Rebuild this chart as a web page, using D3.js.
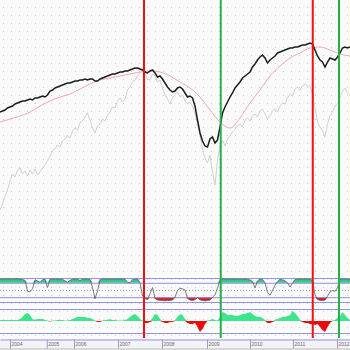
<!DOCTYPE html>
<html>
<head>
<meta charset="utf-8">
<script src="https://cdn.jsdelivr.net/npm/d3@7"></script>
<style>
  html, body { margin: 0; padding: 0; background: #fafafa; }
  svg { display: block; }
  .axis text { font-family: "Liberation Sans", Arial, sans-serif; font-size: 5px; fill: #666; }
</style>
</head>
<body>
<svg id="chart" width="350" height="350"></svg>
<script>
// price index (one value per bar)
const priceValues = [188,189,190,192,193,194,196,197,198,199,
    199,200,201,200,202,202,203,204,203,205,
    209,210,212,213,214,215,216,217,217,218,
    219,219,220,220,221,220,221,221,219,219,
    221,222,223,224,225,226,226,227,228,228,
    229,229,230,231,232,232,231,230,228,227,
    229,230,227,223,224,221,217,213,210,208,
    209,212,213,211,207,203,204,202,194,180,
    167,159,154,153,161,163,157,160,173,187,
    193,198,203,207,212,215,218,222,224,226,
    228,233,236,240,243,245,242,237,240,242,
    244,247,248,249,250,251,252,252,253,253,
    254,255,255,256,257,256,250,244,240,238,
    233,238,242,241,240,243,247,252,253,252,
    253];

// moving average, one value every 4 bars
const maValues = [178,181,184,188,194,199,203,206,211,216,220,222,224,226,228,229,228,224,
    218,212,203,190,178,172,182,197,210,224,234,242,247,252,253,250,246,244];
const maStride = 4;

// comparison series (light gray)
const compareValues = [90,96,104,110,119,126,123,130,132,126,
    129,124,130,126,131,125,128,132,135,139,
    144,149,151,155,153,159,161,164,162,169,
    172,170,177,179,183,187,180,172,167,174,
    176,181,179,185,188,193,192,199,202,198,
    201,210,213,218,220,224,227,229,227,221,
    220,226,224,218,220,212,205,201,196,202,
    206,208,203,205,199,196,198,194,186,176,
    165,150,142,137,145,128,115,140,155,160,
    154,161,164,168,171,174,176,173,180,182,
    179,184,186,183,189,191,186,181,184,189,
    191,188,194,197,196,202,206,204,211,213,
    210,214,216,214,214,206,192,178,173,169,
    163,176,184,188,194,196,202,209,212,207,
    205];

// oscillator 0..100
const oscValues = [95,96,95,97,96,95,96,97,95,94,
    90,45,42,55,92,88,82,93,95,60,
    95,96,95,96,94,95,88,82,90,95,
    96,95,90,95,96,95,94,60,15,45,
    92,96,95,96,95,96,95,96,95,96,
    95,82,80,93,95,96,80,25,15,10,
    35,60,15,8,7,6,5,6,7,8,
    20,48,57,55,50,15,8,6,10,18,
    9,6,5,6,8,20,30,58,92,96,
    95,96,95,96,95,96,94,95,96,94,
    92,85,58,88,95,94,80,40,28,48,
    70,85,95,92,88,80,62,78,94,95,
    96,95,96,94,95,90,30,10,7,6,
    8,25,42,48,44,60,94,96,95,95,
    93];
const oscLevels = [100, 80, 20, 0];
const oscUpper = 80, oscLower = 20, oscMid = 50;

// momentum histogram
const histValues = [1,1,1,1,1,1,1,1,2,4,
    7,8,6,2,1,2,2,2,1,0.5,
    -0.5,0.5,0.5,1,1,1,0.5,0.5,1,2,
    3,4,4,4,4,3,3,2,0.5,-1,
    -1,0.5,1,1,2,1,1,0.5,0.5,0.5,
    1,2,4,6,7,5,2,0.5,-2,-2,
    -1,3,7,6,2,-1,-2,-2,-1,-1,
    1,4,7,6,2,-2,-3,-3,-2,-6,
    -11,-8,-3,0.5,1,2,1,0.5,4,9,
    8,6,6,6,5,5,6,7,7,8,
    9,7,5,4,4,3,1,-2,-2,-1,
    1,2,3,4,4,5,6,10,8,5,
    1,-1,-2,-2,-3,-3,-4,-3,-6,-9,
    -11,-6,-2,0.5,1,3,5,9,6,3,
    1];
const histLevels = [12, -12];

// year labels and the bar where each year starts
const yearLabels = ["2004","2005","2006","2007","2008","2009","2010","2011","2012"];
const yearBars = [4, 18.7, 29.6, 47.2, 64.8, 82.8, 100, 117.2, 134.8];

// sell / buy signals
const signalBars = [57.6, 88.3, 125.1, 135.6];
const signalTypes = ["sell", "buy", "sell", "buy"];

const svg = d3.select("#chart");
const W = 350, H = 350;

const x = d3.scaleLinear().domain([0, priceValues.length - 1]).range([0, W]);
const yMain = d3.scaleLinear().domain([0, 300]).range([300, 0]);
const yOsc = d3.scaleLinear().domain([0, 100]).range([302, 278]);
const yHist = d3.scaleLinear().domain([-12, 12]).range([333, 309]);

// dotted background grid
const defs = svg.append("defs");
const pat = defs.append("pattern").attr("id", "dots")
    .attr("width", 8).attr("height", 8).attr("patternUnits", "userSpaceOnUse");
pat.append("rect").attr("x", 3).attr("y", 7).attr("width", 1).attr("height", 1).attr("fill", "#c9c9cf");
svg.append("rect").attr("width", W).attr("height", 339).attr("fill", "#fafafa");
svg.append("rect").attr("width", W).attr("height", 339).attr("fill", "url(#dots)");

// main panel
const lineGen = d3.line().x((d, i) => x(i)).y(d => yMain(d));

svg.append("path").datum(compareValues)
    .attr("d", lineGen)
    .attr("fill", "none").attr("stroke", "#c6c6c6").attr("stroke-width", 0.8);

svg.append("path").datum(maValues)
    .attr("d", d3.line().curve(d3.curveMonotoneX)
        .x((d, i) => x(i * maStride)).y(d => yMain(d)))
    .attr("fill", "none").attr("stroke", "#f3a5bf").attr("stroke-width", 1);

svg.append("path").datum(priceValues)
    .attr("d", lineGen)
    .attr("fill", "none").attr("stroke", "#1a1f1a").attr("stroke-width", 1.5);

// oscillator panel
svg.append("path").datum(oscValues)
    .attr("d", d3.area().x((d, i) => x(i))
        .y0(yOsc(oscUpper)).y1(d => yOsc(Math.max(d, oscUpper))))
    .attr("fill", "#2dcc7f");
svg.append("path").datum(oscValues)
    .attr("d", d3.area().x((d, i) => x(i))
        .y0(yOsc(oscLower)).y1(d => yOsc(Math.min(d, oscLower))))
    .attr("fill", "#e81414");

svg.selectAll(".oscLevel").data(oscLevels).enter().append("line")
    .attr("class", "oscLevel")
    .attr("x1", 0).attr("x2", W)
    .attr("y1", d => yOsc(d) + 0.5).attr("y2", d => yOsc(d) + 0.5)
    .attr("stroke", "#9393df").attr("stroke-width", 1);
svg.append("line")
    .attr("x1", 0).attr("x2", W)
    .attr("y1", yOsc(oscMid) + 0.5).attr("y2", yOsc(oscMid) + 0.5)
    .attr("stroke", "#888").attr("stroke-width", 0.8).attr("stroke-dasharray", "1,2");

svg.append("path").datum(oscValues)
    .attr("d", d3.line().x((d, i) => x(i)).y(d => yOsc(d)))
    .attr("fill", "none").attr("stroke", "#5a5a5a").attr("stroke-width", 0.8);

// histogram panel
svg.selectAll(".histLevel").data(histLevels).enter().append("line")
    .attr("class", "histLevel")
    .attr("x1", 0).attr("x2", W)
    .attr("y1", d => yHist(d) + 0.5).attr("y2", d => yHist(d) + 0.5)
    .attr("stroke", "#9393df").attr("stroke-width", 1);

svg.append("path").datum(histValues)
    .attr("d", d3.area().x((d, i) => x(i))
        .y0(yHist(0)).y1(d => yHist(Math.max(d, 0))))
    .attr("fill", "#3de68c");
svg.append("path").datum(histValues)
    .attr("d", d3.area().x((d, i) => x(i))
        .y0(yHist(0)).y1(d => yHist(Math.min(d, 0))))
    .attr("fill", "#ee0a0a");

// signal lines
svg.selectAll(".signal").data(signalBars).enter().append("line")
    .attr("class", "signal")
    .attr("x1", d => x(d)).attr("x2", d => x(d))
    .attr("y1", 0).attr("y2", 338)
    .attr("stroke", (d, i) => signalTypes[i] === "sell" ? "#ee1111" : "#22b24a")
    .attr("stroke-width", 2);

// x axis
svg.append("rect").attr("y", 339).attr("width", W).attr("height", 11).attr("fill", "#f4f4f6");
svg.append("rect").attr("y", 348).attr("width", W).attr("height", 2).attr("fill", "#d6d6dc");

const xAxis = d3.axisBottom(x)
    .tickValues(yearBars)
    .tickFormat((d, i) => yearLabels[i])
    .tickSize(9).tickSizeOuter(0);

const gx = svg.append("g").attr("class", "axis")
    .attr("transform", "translate(0,339.5)")
    .call(xAxis);
gx.select(".domain").attr("stroke", "#9393df");
gx.selectAll(".tick line").attr("stroke", "#9a9acc");
gx.selectAll(".tick text")
    .attr("text-anchor", "start")
    .attr("x", 1).attr("y", 2.5).attr("dy", "0.71em");
</script>
</body>
</html>
